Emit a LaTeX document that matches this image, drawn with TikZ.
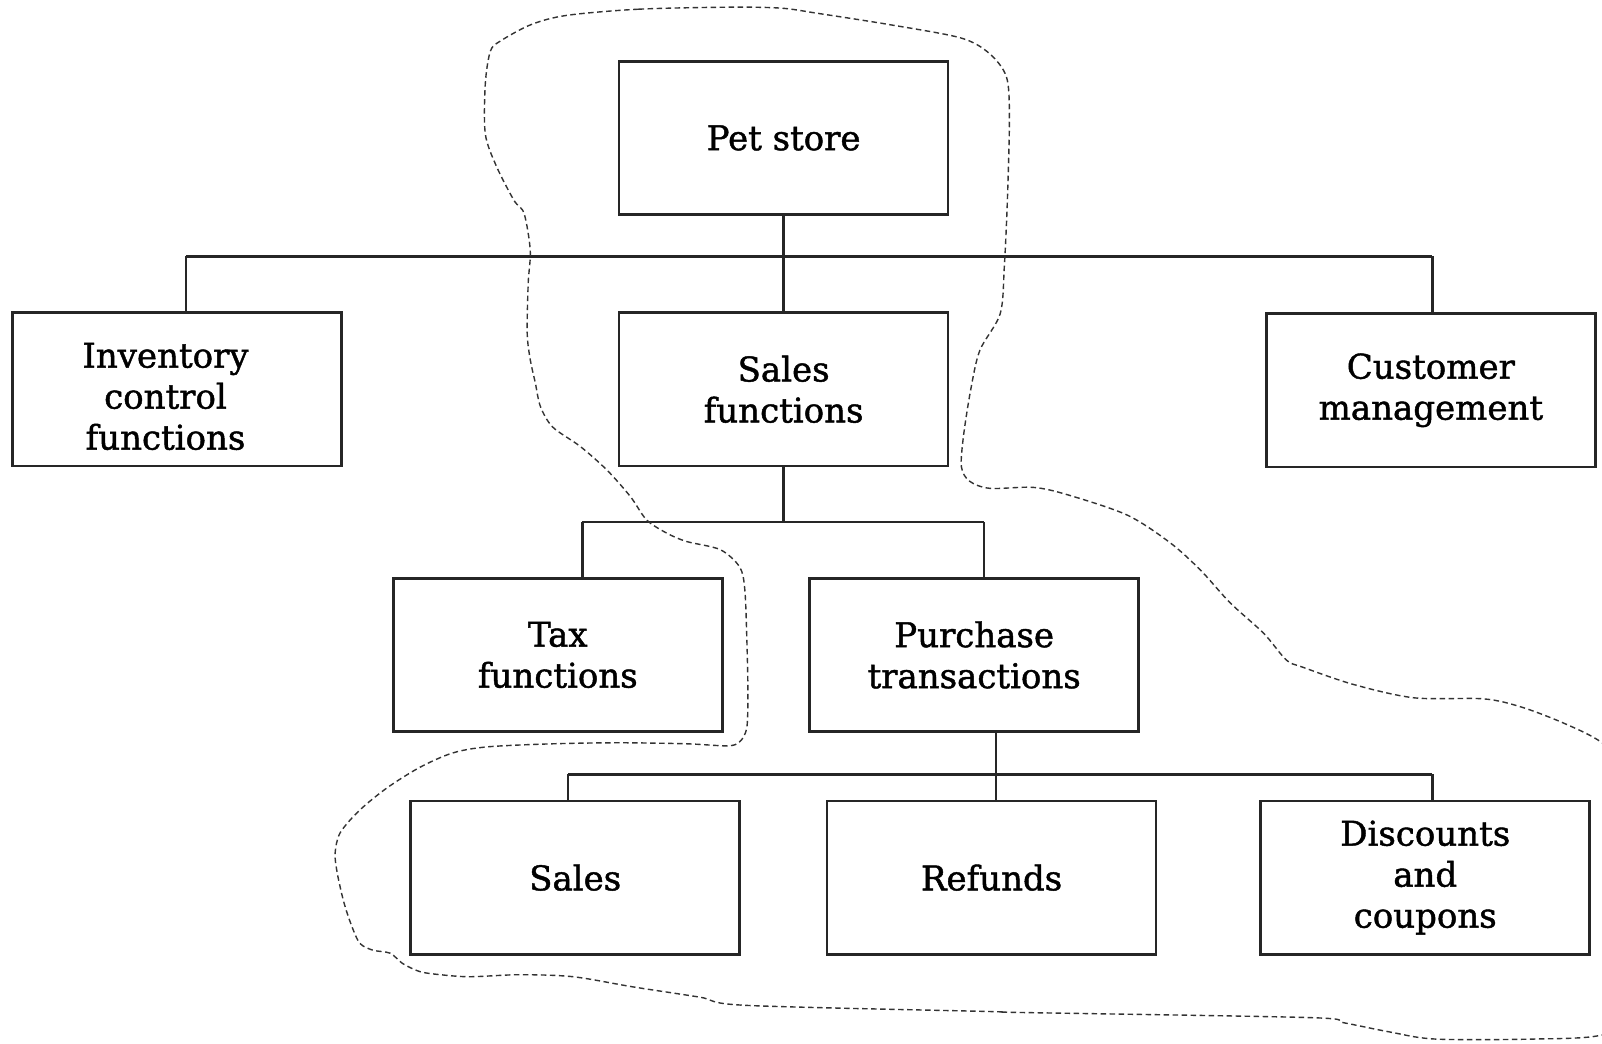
\documentclass[tikz,border=0pt]{standalone}
\usepackage{fontspec}
\setmainfont{DejaVu Serif}[FakeBold=1.3]
\begin{document}
\begin{tikzpicture}[x=1.0217pt,y=-1.0217pt,
  lbl/.style={align=center,font=\fontsize{34}{41}\selectfont,inner sep=0pt},
  box/.style={lbl,draw=black!85,line width=2.6pt,minimum width=329pt,minimum height=153.3pt},
  wire/.style={draw=black!85,line width=2.6pt},
  outline/.style={draw=black!80,line width=1.4pt,dash pattern=on 5.5pt off 3.5pt}]
\useasboundingbox (0,0) rectangle (1568,1021);
\fill[white] (0,0) rectangle (1568,1021);

% boxes
\node[box] (pet)    at (767,135)    {Pet store};
\node[box] (inv)    at (173,381)    {};
\node[lbl] (invtxt) at (162,388)    {Inventory\\control\\functions};
\node[box] (salesf) at (767,381)    {Sales\\functions};
\node[box] (cust)   at (1400.5,382) {Customer\\management};
\node[box] (tax)    at (546,641)    {Tax\\functions};
\node[box] (purch)  at (953.5,641)  {Purchase\\transactions};
\node[box] (sales)  at (563,859)    {Sales};
\node[box] (ref)    at (970.5,859)  {Refunds};
\node[box] (disc)   at (1395,859)   {Discounts\\and\\coupons};

% bus lines
\coordinate (b1l) at (182,251);
\coordinate (b1m) at (767,251);
\coordinate (b1r) at (1402,251);
\coordinate (b2l) at (570,511);
\coordinate (b2m) at (767,511);
\coordinate (b2r) at (963,511);
\coordinate (b3l) at (556,758);
\coordinate (b3m) at (975,758);
\coordinate (b3r) at (1402,758);

\draw[wire] (pet.south) -- (salesf.north);
\draw[wire] (b1l) -- (b1r);
\draw[wire] (b1l) -- (b1l |- inv.north);
\draw[wire] (b1r) -- (b1r |- cust.north);

\draw[wire] (salesf.south) -- (b2m);
\draw[wire] (b2l) -- (b2r);
\draw[wire] (b2l) -- (b2l |- tax.north);
\draw[wire] (b2r) -- (b2r |- purch.north);

\draw[wire] (b3m |- purch.south) -- (b3m |- ref.north);
\draw[wire] (b3l) -- (b3r);
\draw[wire] (b3l) -- (b3l |- sales.north);
\draw[wire] (b3r) -- (b3r |- disc.north);

% hand-drawn boundary around the sales subsystem
\begin{scope}
\clip (0,0) rectangle (1568,1021);
\draw[outline] plot[smooth cycle,tension=0.5] coordinates {
 (555,15) (625,9) (715,7) (765,8) (800,13) (870,24) (940,37) (968,52) (985,75)
 (988,114) (986,196) (983,261) (979,307) (959,343) (950,382) (943,427) (941,457)
 (949,471) (969,478) (1011,477) (1044,484) (1103,504) (1145,531) (1175,558)
 (1204,590) (1237,620) (1259,646) (1275,653) (1325,670) (1384,683) (1452,684)
 (1489,692) (1531,708) (1568,727) (1600,760) (1620,860) (1610,990) (1568,1013)
 (1501,1017) (1405,1017) (1360,1010) (1315,1001) (1282,996) (1000,991) (967,990)
 (730,984) (685,976) (620,966) (561,956) (509,954) (460,956) (431,954) (411,951)
 (394,943) (382,933) (365,930) (352,923) (343,903) (336,881) (330,854) (328,835)
 (333,815) (352,793) (379,771) (411,751) (443,737) (477,731) (541,728) (607,727)
 (672,728) (712,730) (724,726) (731,712) (732,675) (731,626) (729,577) (724,555)
 (705,538) (672,530) (653,522) (633,509) (617,486) (594,460) (568,437) (541,418)
 (529,398) (524,375) (519,352) (516,326) (517,277) (519,245) (513,209) (503,196)
 (486,163) (475,131) (475,82) (480,50) (490,40) (520,24)};
\end{scope}
\end{tikzpicture}
\end{document}
